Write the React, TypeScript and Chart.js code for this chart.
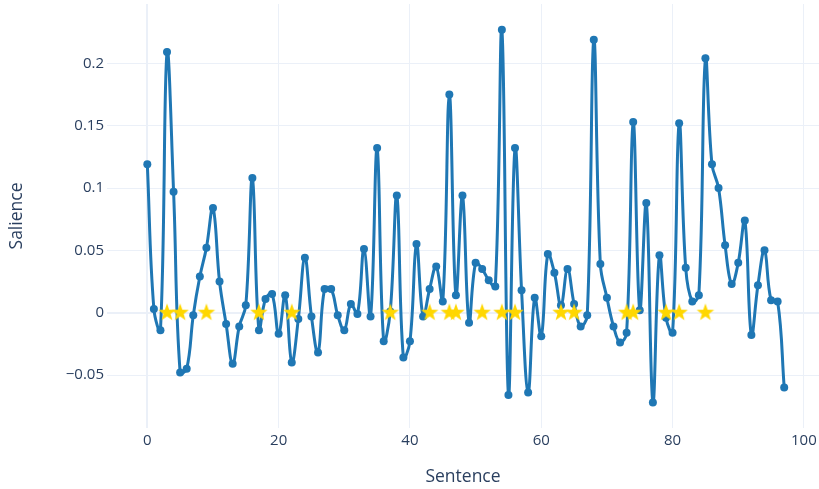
import React, { useEffect, useRef } from "react";
import { Chart, registerables } from "chart.js";

Chart.register(...registerables);

// Salience per sentence (index = sentence number)
const salience: number[] = [
  0.119, 0.003, -0.014, 0.209, 0.097, -0.048, -0.045, -0.002, 0.029, 0.052,
  0.084, 0.025, -0.009, -0.041, -0.011, 0.006, 0.108, -0.014, 0.011, 0.015,
  -0.017, 0.014, -0.04, -0.005, 0.044, -0.003, -0.032, 0.019, 0.019, -0.002,
  -0.014, 0.007, -0.001, 0.051, -0.003, 0.132, -0.023, 0.001, 0.094, -0.036,
  -0.023, 0.055, -0.003, 0.019, 0.037, 0.009, 0.175, 0.014, 0.094, -0.008,
  0.04, 0.035, 0.026, 0.021, 0.227, -0.066, 0.132, 0.018, -0.064, 0.012,
  -0.019, 0.047, 0.032, 0.006, 0.035, 0.007, -0.011, -0.002, 0.219, 0.039,
  0.012, -0.011, -0.024, -0.016, 0.153, 0.002, 0.088, -0.072, 0.046, -0.004,
  -0.016, 0.152, 0.036, 0.009, 0.014, 0.204, 0.119, 0.1, 0.054, 0.023,
  0.04, 0.074, -0.018, 0.022, 0.05, 0.01, 0.009, -0.06,
];

// Sentences marked with a star (drawn at salience 0)
const starSentences: number[] = [
  3, 5, 9, 17, 22, 37, 43, 46, 47, 51, 54, 56, 63, 65, 73, 74, 79, 81, 85,
];
const starLevel = 0;

const xTickValues: number[] = [0, 20, 40, 60, 80, 100];
const yTickLabels: Record<string, string> = {
  "-0.05": "\u22120.05",
  "0": "0",
  "0.05": "0.05",
  "0.1": "0.1",
  "0.15": "0.15",
  "0.2": "0.2",
};

const LINE_COLOR = "#1f77b4";
const STAR_COLOR = "#ffd700";
const TEXT_COLOR = "#2a3f5f";
const GRID_COLOR = "#ebf0f8";

function makeStar(size: number, outer: number, color: string): HTMLCanvasElement {
  const c = document.createElement("canvas");
  c.width = size;
  c.height = size;
  const ctx = c.getContext("2d")!;
  const cx = size / 2;
  const cy = size / 2;
  const inner = outer * 0.4;
  ctx.beginPath();
  for (let i = 0; i < 10; i++) {
    const r = i % 2 === 0 ? outer : inner;
    const a = -Math.PI / 2 + (i * Math.PI) / 5;
    const px = cx + r * Math.cos(a);
    const py = cy + r * Math.sin(a);
    if (i === 0) ctx.moveTo(px, py);
    else ctx.lineTo(px, py);
  }
  ctx.closePath();
  ctx.fillStyle = color;
  ctx.fill();
  return c;
}

export default function App() {
  const ref = useRef<HTMLCanvasElement | null>(null);

  useEffect(() => {
    if (!ref.current) return;
    const star = makeStar(20, 9.2, STAR_COLOR);
    const fontFamily = "'Open Sans', 'DejaVu Sans', sans-serif";
    const chart = new Chart(ref.current, {
      type: "scatter",
      data: {
        datasets: [
          {
            label: "stars",
            data: starSentences.map((s) => ({ x: s, y: starLevel })),
            showLine: false,
            pointStyle: star as any,
            pointRadius: 9,
            order: 0,
          },
          {
            label: "salience",
            data: salience.map((v, i) => ({ x: i, y: v })),
            showLine: true,
            borderColor: LINE_COLOR,
            backgroundColor: LINE_COLOR,
            borderWidth: 3,
            tension: 0.4,
            pointRadius: 4,
            pointBorderWidth: 0,
            pointBackgroundColor: LINE_COLOR,
            order: 1,
          },
        ],
      },
      options: {
        animation: false,
        responsive: true,
        maintainAspectRatio: false,
        devicePixelRatio: 1,
        layout: {
          autoPadding: false,
          padding: { top: 4, left: 0, right: 0, bottom: 0 },
        },
        plugins: {
          legend: { display: false },
          tooltip: { enabled: false },
        },
        scales: {
          x: {
            type: "linear",
            min: -6.14,
            max: 102.3,
            border: { display: false },
            grid: {
              color: GRID_COLOR,
              drawTicks: false,
              lineWidth: (ctx: any) => (ctx.tick && ctx.tick.value === 0 ? 2 : 1),
            },
            afterBuildTicks: (scale: any) => {
              scale.ticks = xTickValues.map((v) => ({ value: v }));
            },
            ticks: {
              color: TEXT_COLOR,
              font: { family: fontFamily, size: 15 },
              padding: 4,
              maxRotation: 0,
              autoSkip: false,
            },
            title: {
              display: true,
              text: "Sentence",
              color: TEXT_COLOR,
              font: { family: fontFamily, size: 17.5 },
              padding: { top: 0, bottom: 1.5 },
            },
            afterFit: (scale: any) => {
              scale.height = 61;
              scale.paddingLeft = 0;
              scale.paddingRight = 0;
            },
          },
          y: {
            type: "linear",
            min: -0.0925,
            max: 0.2476,
            border: { display: false },
            grid: {
              color: GRID_COLOR,
              drawTicks: false,
              lineWidth: (ctx: any) =>
                ctx.tick && Math.abs(ctx.tick.value) < 1e-9 ? 2 : 1,
            },
            ticks: {
              stepSize: 0.05,
              includeBounds: false,
              color: TEXT_COLOR,
              font: { family: fontFamily, size: 15 },
              padding: 3,
              callback: (v: any) => {
                const key = String(parseFloat(Number(v).toFixed(4)));
                return yTickLabels[key] ?? key;
              },
            },
            title: {
              display: true,
              text: "Salience",
              color: TEXT_COLOR,
              font: { family: fontFamily, size: 17.5 },
              padding: { top: 6.5, bottom: 0 },
            },
            afterFit: (scale: any) => {
              scale.width = 107;
              scale.paddingTop = 0;
              scale.paddingBottom = 0;
            },
          },
        },
      },
    });
    return () => chart.destroy();
  }, []);

  return (
    <div
      style={{
        position: "fixed",
        left: 0,
        top: 0,
        width: 819,
        height: 489,
        background: "#ffffff",
      }}
    >
      <canvas ref={ref} />
    </div>
  );
}
